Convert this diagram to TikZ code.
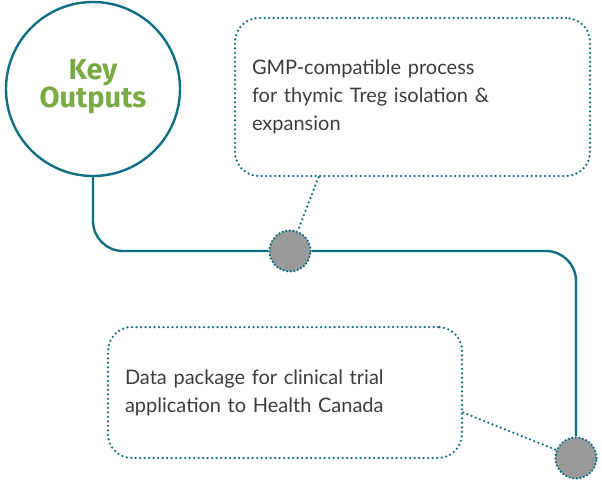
\documentclass[tikz,border=0pt]{standalone}
\usepackage{fontspec}
\setmainfont{Lato}
\newfontfamily\headfont{Fira Sans}
\usepackage{xcolor}
\usetikzlibrary{shapes,calc,positioning}

\definecolor{teal}{HTML}{0F6E84}
\definecolor{leaf}{HTML}{7AAB45}
\definecolor{ink}{HTML}{3C3C3C}

\begin{document}
\begin{tikzpicture}[x=1pt,y=-1pt]
  \tikzset{ hub/.style={circle,draw=teal,line width=2.4pt,minimum size=174pt,inner sep=0pt},
    dot/.style={circle,fill=black!40,draw=teal,line width=2.5pt,dash pattern=on 0pt off 3.6pt,line cap=round,minimum size=41pt,inner sep=0pt},
    box/.style={rectangle,rounded corners=24pt,draw=teal,line width=2.5pt,dash pattern=on 0pt off 4.5pt,line cap=round,
      align=left,inner xsep=17pt,text=ink,font=\fontsize{20}{28}\selectfont},
    link/.style={teal,line width=2.5pt,dash pattern=on 0pt off 4.5pt,line cap=round},
    trunk/.style={teal,line width=2.4pt,rounded corners=30pt},
  }
  \useasboundingbox (0,0) rectangle (602,479);

  \node[hub] (keyout) at (93,89) {};
  \node[text=leaf,font=\headfont\bfseries\fontsize{29}{27}\selectfont,align=center] (keytxt) at (93,87) {Key\\Outputs};

  \node[dot] (dotA) at (290,251) {};
  \node[dot] (dotB) at (576,458) {};

  \node[box,text width=321pt,minimum height=158pt] (boxA) at (412.5,97)
    {GMP-compatible process\\for thymic Treg isolation \&\\expansion};
  \node[box,text width=320pt,minimum height=131pt] (boxB) at (285,392.5)
    {Data package for clinical trial\\application to Health Canada};

  % the main line through the dots
  \draw[trunk] (keyout.south) |- (dotA.west);
  \draw[trunk] (dotA.east) -| (dotB.north);

  % dotted leaders to the boxes
  \draw[link] ([xshift=-94pt]boxA.south) -- (dotA);
  \draw[link] ([yshift=-20pt]boxB.east) -- (dotB);
\end{tikzpicture}
\end{document}
